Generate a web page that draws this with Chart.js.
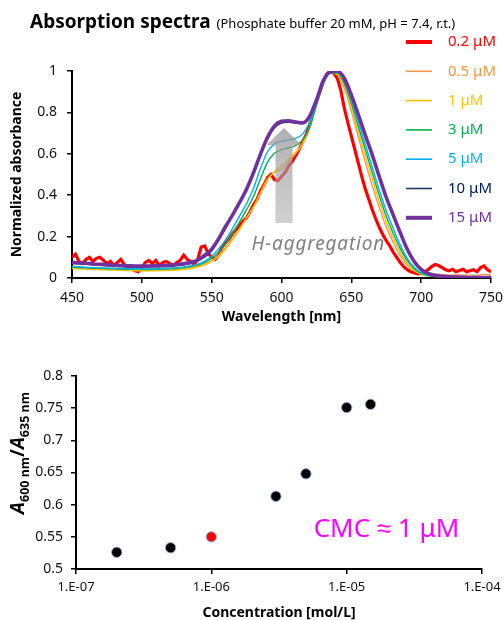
<!DOCTYPE html>
<html><head><meta charset="utf-8">
<script src="https://cdn.jsdelivr.net/npm/chart.js@4/dist/chart.umd.min.js"></script>
<style>
html,body{margin:0;padding:0;background:#fff;width:504px;height:620px;overflow:hidden}
canvas{position:absolute;left:0}
#c1{top:0;width:504px;height:330px}
#c2{top:330px;width:504px;height:290px}
</style></head><body>
<canvas id="c1" width="504" height="330"></canvas>
<canvas id="c2" width="504" height="290"></canvas>
<script>
// ---------- DATA: absorption spectra ----------
const wavelengths = [450,455,460,465,470,475,480,485,490,495,500,505,510,515,520,525,530,535,540,545,550,555,560,565,570,575,580,585,590,595,600,605,610,615,620,625,630,635,640,645,650,655,660,665,670,675,680,685,690,695,700,705,710,715,720,725,730,735,740,745,750];
const wavelengthsRed = [450,452.5,455,457.5,460,462.5,465,467.5,470,472.5,475,477.5,480,482.5,485,487.5,490,492.5,495,497.5,500,502.5,505,507.5,510,512.5,515,517.5,520,522.5,525,527.5,530,532.5,535,537.5,540,542.5,545,547.5,550,552.5,555,557.5,560,562.5,565,567.5,570,572.5,575,577.5,580,582.5,585,587.5,590,592.5,595,597.5,600,602.5,605,607.5,610,612.5,615,617.5,620,622.5,625,627.5,630,632.5,635,637.5,640,642.5,645,647.5,650,652.5,655,657.5,660,662.5,665,667.5,670,672.5,675,677.5,680,682.5,685,687.5,690,692.5,695,697.5,700,702.5,705,707.5,710,712.5,715,717.5,720,722.5,725,727.5,730,732.5,735,737.5,740,742.5,745,747.5,750];
const abs0p2uM = [0.10,0.115,0.08,0.07,0.09,0.10,0.08,0.095,0.10,0.085,0.07,0.08,0.06,0.075,0.09,0.065,0.05,0.045,0.035,0.03,0.05,0.075,0.085,0.07,0.085,0.06,0.075,0.08,0.07,0.06,0.075,0.085,0.11,0.09,0.08,0.065,0.09,0.15,0.155,0.12,0.10,0.09,0.11,0.15,0.17,0.19,0.215,0.235,0.255,0.275,0.29,0.32,0.355,0.38,0.42,0.45,0.485,0.50,0.475,0.47,0.49,0.51,0.54,0.56,0.59,0.62,0.655,0.69,0.735,0.795,0.85,0.90,0.95,0.985,1.0,0.99,0.965,0.905,0.82,0.75,0.685,0.62,0.555,0.49,0.43,0.38,0.33,0.285,0.245,0.21,0.18,0.155,0.125,0.10,0.075,0.055,0.04,0.03,0.025,0.02,0.022,0.03,0.04,0.055,0.065,0.06,0.05,0.04,0.035,0.042,0.03,0.036,0.042,0.03,0.035,0.04,0.03,0.05,0.058,0.04,0.03];
const abs0p5uM = [0.052,0.046,0.05,0.044,0.048,0.042,0.045,0.04,0.043,0.038,0.04,0.042,0.039,0.041,0.043,0.042,0.047,0.05,0.058,0.07,0.083,0.11,0.148,0.19,0.24,0.29,0.345,0.415,0.48,0.51,0.525,0.56,0.60,0.645,0.725,0.84,0.95,0.995,0.98,0.915,0.805,0.68,0.56,0.445,0.34,0.245,0.17,0.108,0.062,0.035,0.022,0.018,0.02,0.016,0.014,0.016,0.013,0.015,0.012,0.018,0.014];
const abs1uM = [0.046,0.044,0.043,0.041,0.040,0.039,0.038,0.037,0.036,0.035,0.035,0.035,0.035,0.036,0.037,0.039,0.042,0.046,0.053,0.064,0.08,0.104,0.14,0.185,0.235,0.29,0.345,0.41,0.475,0.515,0.54,0.573,0.607,0.648,0.725,0.84,0.948,0.993,0.985,0.928,0.825,0.705,0.59,0.478,0.37,0.272,0.192,0.124,0.07,0.036,0.018,0.01,0.007,0.005,0.004,0.004,0.003,0.003,0.003,0.003,0.003];
const abs3uM = [0.052,0.050,0.049,0.047,0.046,0.045,0.044,0.043,0.042,0.042,0.041,0.041,0.042,0.043,0.045,0.047,0.050,0.055,0.062,0.075,0.095,0.125,0.165,0.215,0.272,0.33,0.395,0.48,0.56,0.603,0.62,0.628,0.64,0.665,0.725,0.835,0.94,0.99,0.99,0.94,0.845,0.732,0.62,0.508,0.398,0.298,0.215,0.142,0.084,0.045,0.022,0.012,0.008,0.006,0.005,0.004,0.004,0.003,0.003,0.003,0.003];
const abs5uM = [0.056,0.054,0.052,0.050,0.049,0.048,0.047,0.046,0.045,0.045,0.044,0.044,0.045,0.046,0.048,0.050,0.054,0.059,0.067,0.082,0.105,0.14,0.185,0.24,0.30,0.36,0.435,0.53,0.61,0.648,0.66,0.667,0.675,0.695,0.75,0.85,0.95,0.995,0.995,0.95,0.862,0.755,0.645,0.535,0.425,0.325,0.24,0.16,0.095,0.052,0.026,0.014,0.009,0.007,0.005,0.004,0.004,0.003,0.003,0.003,0.003];
const abs10uM = [0.070,0.068,0.066,0.063,0.061,0.059,0.057,0.055,0.054,0.053,0.053,0.053,0.054,0.055,0.057,0.060,0.064,0.070,0.082,0.10,0.13,0.18,0.24,0.30,0.36,0.42,0.50,0.59,0.67,0.725,0.748,0.752,0.748,0.745,0.775,0.855,0.952,0.995,0.998,0.962,0.88,0.783,0.682,0.585,0.48,0.38,0.295,0.21,0.132,0.075,0.038,0.02,0.011,0.007,0.005,0.004,0.003,0.003,0.002,0.002,0.002];
const abs15uM = [0.076,0.073,0.071,0.068,0.066,0.064,0.062,0.060,0.059,0.058,0.058,0.058,0.059,0.060,0.062,0.065,0.069,0.076,0.087,0.11,0.14,0.19,0.25,0.305,0.365,0.43,0.51,0.60,0.68,0.735,0.757,0.76,0.754,0.75,0.78,0.86,0.955,0.996,1.0,0.965,0.885,0.79,0.69,0.595,0.49,0.39,0.305,0.22,0.14,0.08,0.042,0.022,0.012,0.008,0.006,0.005,0.004,0.003,0.003,0.002,0.002];
const seriesLabels = ['0.2 μM','0.5 μM','1 μM','3 μM','5 μM','10 μM','15 μM'];
const seriesColors = ['#FF0000','#F79646','#FFC000','#00B050','#00B0F0','#1F3864','#7030A0'];
const legendTextColors = ['#FF0000','#F79646','#FFC000','#00B050','#00B0F0','#002060','#7030A0'];
const seriesWidths = [3.2,1.4,1.4,1.4,1.4,1.4,3.5];
const spectraX = [wavelengthsRed, wavelengths, wavelengths, wavelengths, wavelengths, wavelengths, wavelengths];
const spectraY = [abs0p2uM, abs0p5uM, abs1uM, abs3uM, abs5uM, abs10uM, abs15uM];
const spectraXTicks = [450,500,550,600,650,700,750];
const spectraYTicks = [0,0.2,0.4,0.6,0.8,1];

// ---------- DATA: ratio vs concentration ----------
const concentrations = [2e-7,5e-7,1e-6,3e-6,5e-6,1e-5,1.5e-5];
const ratio600to635 = [0.526,0.533,0.550,0.613,0.648,0.751,0.756];
const cmcConcentration = 1e-6;
const concTickValues = [1e-7,1e-6,1e-5,1e-4];
const concTickLabels = ['1.E-07','1.E-06','1.E-05','1.E-04'];
const ratioTicks = [0.5,0.55,0.6,0.65,0.7,0.75,0.8];

const FONT = "'Noto Sans', sans-serif";

// ---------- Top chart decorations ----------
const topDecor = {
  id: 'topDecor',
  afterDatasetsDraw(chart) {
    const {ctx, scales: {x, y}} = chart;
    const cx = x.getPixelForValue(601.8);
    const yb = y.getPixelForValue(0.266), hb = y.getPixelForValue(0.643), yt = y.getPixelForValue(0.725);
    ctx.save();
    const g = ctx.createLinearGradient(0, yb, 0, yt);
    g.addColorStop(0, 'rgba(170,170,170,0.55)');
    g.addColorStop(1, 'rgba(150,150,150,0.75)');
    ctx.fillStyle = g;
    ctx.beginPath();
    ctx.moveTo(cx - 8.5, yb); ctx.lineTo(cx - 8.5, hb); ctx.lineTo(cx - 17.5, hb);
    ctx.lineTo(cx, yt); ctx.lineTo(cx + 17.5, hb); ctx.lineTo(cx + 8.5, hb); ctx.lineTo(cx + 8.5, yb);
    ctx.closePath(); ctx.fill();
    ctx.fillStyle = '#808080';
    ctx.font = `italic 19px ${FONT}`;
    try { ctx.letterSpacing = '0.8px'; } catch (e) {}
    ctx.textBaseline = 'alphabetic'; ctx.textAlign = 'left';
    ctx.fillText('H-aggregation', x.getPixelForValue(578.6), y.getPixelForValue(0.135));
    ctx.restore();
  },
  afterDraw(chart) {
    const ctx = chart.ctx;
    ctx.save();
    ctx.textBaseline = 'alphabetic'; ctx.textAlign = 'left'; ctx.fillStyle = '#000';
    ctx.font = `bold 19px ${FONT}`;
    ctx.fillText('Absorption spectra', 30, 28);
    const w = ctx.measureText('Absorption spectra').width;
    ctx.font = `13px ${FONT}`;
    ctx.fillText('(Phosphate buffer 20 mM, pH = 7.4, r.t.)', 30 + w + 6, 28);
    chart.data.datasets.forEach((ds, i) => {
      const yy = 42 + i * 29.3;
      ctx.strokeStyle = ds.borderColor; ctx.lineWidth = ds.borderWidth > 2 ? 4 : 1.6;
      ctx.beginPath(); ctx.moveTo(406, yy); ctx.lineTo(432, yy); ctx.stroke();
      ctx.fillStyle = legendTextColors[i];
      ctx.font = `15px ${FONT}`; ctx.textBaseline = 'middle';
      ctx.fillText(ds.label, 448, yy);
    });
    ctx.restore();
  }
};

const axisCommon = (ticksOpts) => ({
  border: {color: '#000', width: 2},
  grid: {drawOnChartArea: false, drawTicks: true, tickLength: 5, color: '#000', lineWidth: 1.5},
  ticks: Object.assign({color: '#111', font: {family: FONT, size: 14}}, ticksOpts)
});
const noSidePad = s => { s.paddingLeft = 0; s.paddingRight = 0; };

new Chart(document.getElementById('c1'), {
  type: 'line',
  data: {
    datasets: spectraY.map((ys, i) => ({
      label: seriesLabels[i],
      data: ys.map((v, k) => ({x: spectraX[i][k], y: v})),
      borderColor: seriesColors[i],
      borderWidth: seriesWidths[i],
      pointRadius: 0,
      tension: i === 0 ? 0 : 0.4,
      cubicInterpolationMode: i === 0 ? 'default' : 'monotone',
      fill: false,
      order: 7 - i
    }))
  },
  options: {
    responsive: false, animation: false,
    layout: {padding: {left: 9, right: 13, top: 71, bottom: 5}},
    plugins: {legend: {display: false}, tooltip: {enabled: false}, title: {display: false}},
    scales: {
      x: Object.assign(axisCommon({padding: 7, maxRotation: 0, autoSkip: false}), {
        type: 'linear', min: 450, max: 750,
        afterBuildTicks: s => { s.ticks = spectraXTicks.map(v => ({value: v})); },
        title: {display: true, text: 'Wavelength [nm]', color: '#000', font: {family: FONT, size: 14, weight: 'bold'}, padding: {top: 0, bottom: 0}},
        afterFit: s => { s.height = 47; noSidePad(s); }
      }),
      y: Object.assign(axisCommon({padding: 10, callback: v => String(+v.toFixed(1))}), {
        min: 0, max: 1,
        afterBuildTicks: s => { s.ticks = spectraYTicks.map(v => ({value: v})); },
        title: {display: true, text: 'Normalized absorbance', color: '#000', font: {family: FONT, size: 14, weight: 'bold'}, padding: {top: 0, bottom: 0}},
        afterFit: s => { s.width = 63; }
      })
    }
  },
  plugins: [topDecor]
});

// ---------- Bottom chart ----------
const bottomDecor = {
  id: 'bottomDecor',
  afterDraw(chart) {
    const {ctx, scales: {x, y}} = chart;
    ctx.save();
    const segs = [
      {t: 'A', f: `italic bold 19px ${FONT}`, dy: 0},
      {t: '600 nm', f: `bold 12.5px ${FONT}`, dy: 4.5},
      {t: '/', f: `bold 19px ${FONT}`, dy: 0},
      {t: 'A', f: `italic bold 19px ${FONT}`, dy: 0},
      {t: '635 nm', f: `bold 12.5px ${FONT}`, dy: 4.5}
    ];
    let total = 0;
    segs.forEach(s => { ctx.font = s.f; s.w = ctx.measureText(s.t).width; total += s.w; });
    ctx.translate(24, 123);
    ctx.rotate(-Math.PI / 2);
    ctx.fillStyle = '#000'; ctx.textBaseline = 'alphabetic'; ctx.textAlign = 'left';
    let px = -total / 2;
    segs.forEach(s => { ctx.font = s.f; ctx.fillText(s.t, px, s.dy); px += s.w; });
    ctx.restore();
    ctx.save();
    ctx.fillStyle = '#FF00FF';
    ctx.font = `26px ${FONT}`;
    ctx.textBaseline = 'alphabetic'; ctx.textAlign = 'left';
    ctx.fillText('CMC ≈ 1 μM', x.getPixelForValue(5.7e-6), y.getPixelForValue(0.55));
    ctx.restore();
  }
};

new Chart(document.getElementById('c2'), {
  type: 'scatter',
  data: {
    datasets: [{
      label: 'A600/A635',
      data: concentrations.map((c, i) => ({x: c, y: ratio600to635[i]})),
      pointRadius: 5.2,
      pointBackgroundColor: concentrations.map(c => c === cmcConcentration ? '#FF0000' : '#000000'),
      pointBorderColor: '#8DB4E2',
      pointBorderWidth: 1
    }]
  },
  options: {
    responsive: false, animation: false,
    layout: {padding: {left: 26, right: 22, top: 46, bottom: 0}},
    plugins: {legend: {display: false}, tooltip: {enabled: false}},
    scales: {
      x: Object.assign(axisCommon({padding: 5, maxRotation: 0, autoSkip: false, font: {family: FONT, size: 13}, callback: (v, i) => concTickLabels[i]}), {
        type: 'logarithmic', min: 1e-7, max: 1e-4,
        afterBuildTicks: s => { s.ticks = concTickValues.map(v => ({value: v})); },
        title: {display: true, text: 'Concentration [mol/L]', color: '#000', font: {family: FONT, size: 14, weight: 'bold'}, padding: {top: 0, bottom: -1}},
        afterFit: s => { s.height = 51; noSidePad(s); }
      }),
      y: Object.assign(axisCommon({padding: 8, callback: v => String(+v.toFixed(2))}), {
        min: 0.5, max: 0.8,
        afterBuildTicks: s => { s.ticks = ratioTicks.map(v => ({value: v})); },
        afterFit: s => { s.width = 50; }
      })
    }
  },
  plugins: [bottomDecor]
});
</script></body></html>
